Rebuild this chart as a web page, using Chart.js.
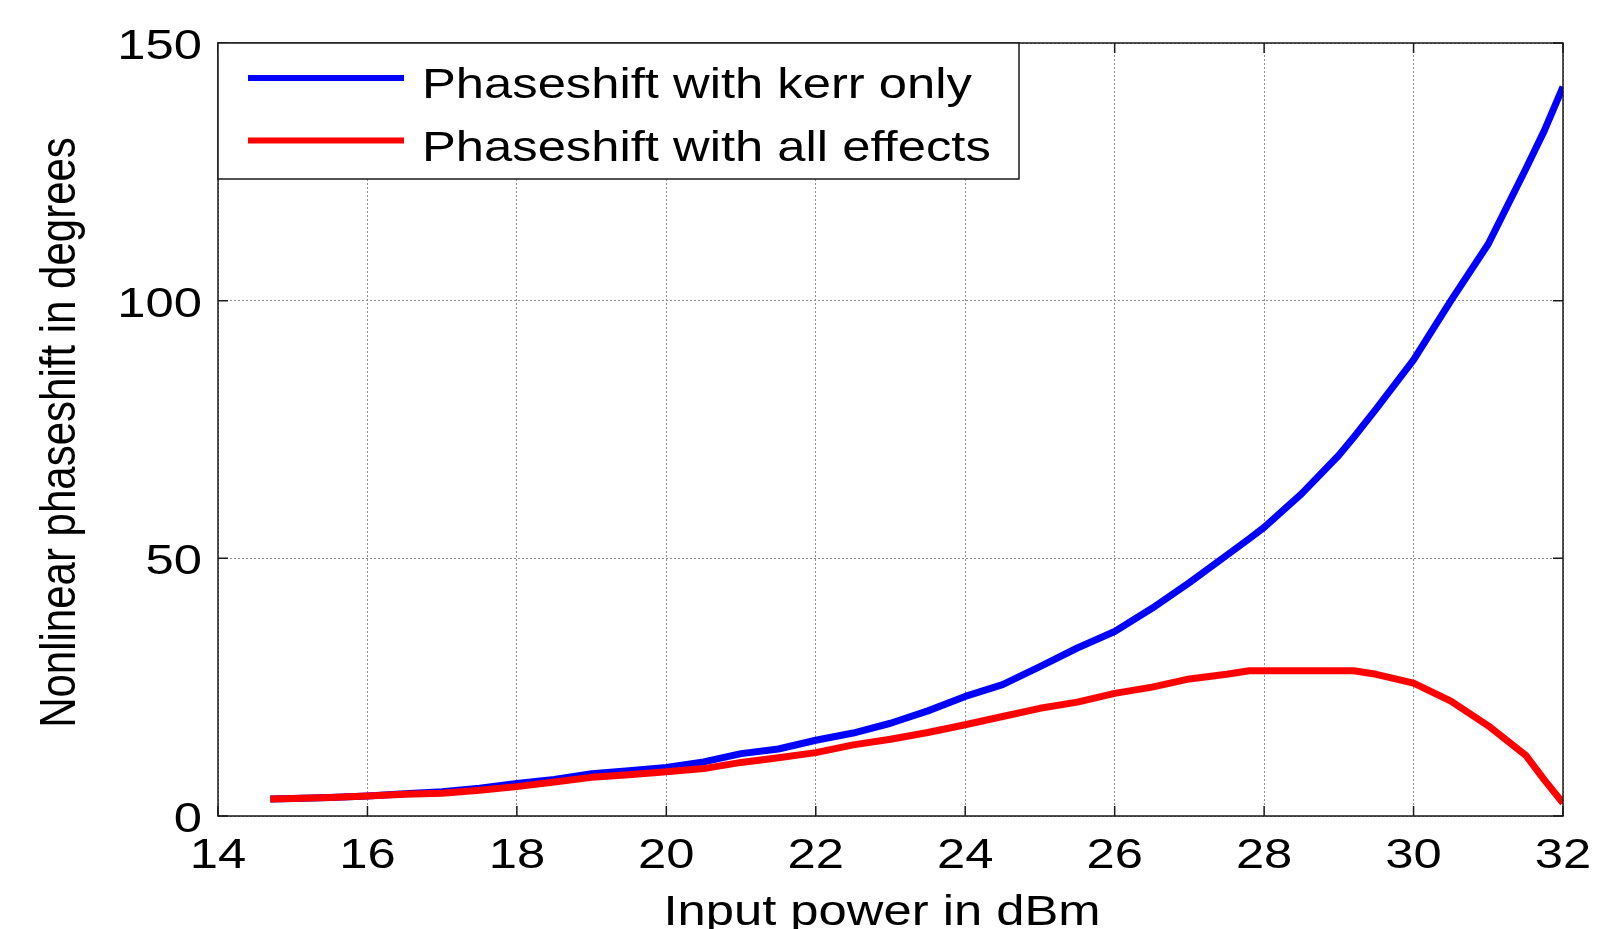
<!DOCTYPE html>
<html>
<head>
<meta charset="utf-8">
<title>Nonlinear phaseshift vs input power</title>
<script src="https://cdn.jsdelivr.net/npm/chart.js@4.4.1/dist/chart.umd.min.js"></script>
<style>
    html, body { margin: 0; padding: 0; background: #fff; }
    .chart-container { position: relative; width: 1614px; height: 929px; }
</style>
</head>
<body>
<div class="chart-container"><canvas id="phase-chart"></canvas></div>
<script>
// input power (dBm) where the curves were read
const powerDbm = [14.7, 15, 15.5, 16, 16.5, 17, 17.5, 18, 18.5, 19,
    19.5, 20, 20.5, 21, 21.5, 22, 22.5, 23, 23.5, 24,
    24.5, 25, 25.5, 26, 26.5, 27, 27.5, 27.8, 28, 28.5,
    29, 29.2, 29.5, 30, 30.5, 31, 31.5, 31.75, 32];

// nonlinear phaseshift in degrees
const kerrOnly = [3.3, 3.4, 3.6, 3.9, 4.3, 4.7, 5.4, 6.3, 7.1, 8.2,
    8.8, 9.4, 10.5, 12.1, 13.0, 14.7, 16.1, 18.0, 20.4, 23.2,
    25.5, 29.0, 32.6, 35.8, 40.3, 45.3, 50.6, 53.8, 56.0, 62.5,
    70.0, 73.5, 79.0, 88.5, 100.0, 111.0, 125.5, 133.0, 141.5];

const allEffects = [3.3, 3.4, 3.6, 3.9, 4.2, 4.4, 5.0, 5.7, 6.6, 7.5,
    8.0, 8.6, 9.2, 10.4, 11.3, 12.3, 13.8, 14.9, 16.2, 17.7,
    19.3, 20.9, 22.1, 23.8, 25.0, 26.6, 27.5, 28.2, 28.2, 28.2,
    28.2, 28.2, 27.5, 25.8, 22.3, 17.5, 11.8, 7.0, 2.5];

const seriesLabels = ["Phaseshift with kerr only", "Phaseshift with all effects"];
const seriesColors = ["rgb(0,0,255)", "rgb(255,0,0)"];

const xTitle = "Input power in dBm";
const yTitle = "Nonlinear phaseshift in degrees";

const FONT = '"Liberation Sans", Arial, Helvetica, sans-serif';
const STRETCH = 1.18;   // the picture is a bit wider than tall

function stretchedText(ctx, text, x, y, size, align) {
    ctx.save();
    ctx.translate(x, y);
    ctx.scale(STRETCH, 1);
    ctx.font = size + "px " + FONT;
    ctx.textAlign = align;
    ctx.textBaseline = "alphabetic";
    ctx.fillStyle = "#000";
    ctx.fillText(text, 0, 0);
    ctx.restore();
}

// matlab style box, inner ticks, labels and legend
const matlabAxes = {
    id: "matlabAxes",
    afterDraw(chart) {
        const {ctx, chartArea: a, scales: {x, y}} = chart;

        ctx.save();
        ctx.strokeStyle = "#1a1a1a";
        ctx.lineWidth = 1.5;
        ctx.strokeRect(a.left, a.top, a.right - a.left, a.bottom - a.top);

        ctx.beginPath();
        x.ticks.forEach(t => {
            const px = x.getPixelForValue(t.value);
            ctx.moveTo(px, a.bottom); ctx.lineTo(px, a.bottom - 10);
            ctx.moveTo(px, a.top); ctx.lineTo(px, a.top + 10);
        });
        y.ticks.forEach(t => {
            const py = y.getPixelForValue(t.value);
            ctx.moveTo(a.left, py); ctx.lineTo(a.left + 10, py);
            ctx.moveTo(a.right, py); ctx.lineTo(a.right - 10, py);
        });
        ctx.stroke();
        ctx.restore();

        x.ticks.forEach(t => {
            stretchedText(ctx, t.label, x.getPixelForValue(t.value), a.bottom + 52, 43, "center");
        });
        y.ticks.forEach(t => {
            stretchedText(ctx, t.label, a.left - 16, y.getPixelForValue(t.value) + 16, 43, "right");
        });

        stretchedText(ctx, xTitle, 882, 925, 43, "center");

        ctx.save();
        ctx.translate(75, (a.top + a.bottom) / 2 + 3);
        ctx.rotate(-Math.PI / 2);
        ctx.scale(1, STRETCH);
        ctx.font = "42px " + FONT;
        ctx.textAlign = "center";
        ctx.textBaseline = "alphabetic";
        ctx.fillStyle = "#000";
        ctx.fillText(yTitle, 0, 0);
        ctx.restore();

        // legend box in the upper left corner
        const lx = a.left, ly = a.top, lw = 801, lh = 136;
        ctx.save();
        ctx.fillStyle = "#fff";
        ctx.fillRect(lx, ly, lw, lh);
        ctx.strokeStyle = "#1a1a1a";
        ctx.lineWidth = 1.5;
        ctx.strokeRect(lx, ly, lw, lh);
        ctx.lineWidth = 6;
        seriesLabels.forEach((label, i) => {
            const rowY = ly + 35 + i * 62.5;
            ctx.strokeStyle = seriesColors[i];
            ctx.beginPath();
            ctx.moveTo(lx + 30, rowY);
            ctx.lineTo(lx + 186, rowY);
            ctx.stroke();
            stretchedText(ctx, label, lx + 204, rowY + 20, 43, "left");
        });
        ctx.restore();
    }
};

const toPoints = values => values.map((v, i) => ({x: powerDbm[i], y: v}));

new Chart(document.getElementById("phase-chart"), {
    type: "line",
    data: {
        datasets: [
            {
                label: seriesLabels[0],
                data: toPoints(kerrOnly),
                borderColor: seriesColors[0],
                borderWidth: 7,
                pointRadius: 0,
                tension: 0,
                order: 1
            },
            {
                label: seriesLabels[1],
                data: toPoints(allEffects),
                borderColor: seriesColors[1],
                borderWidth: 7,
                pointRadius: 0,
                tension: 0,
                order: 0
            }
        ]
    },
    options: {
        responsive: true,
        maintainAspectRatio: false,
        animation: false,
        events: [],
        layout: {padding: {left: 218, right: 51, top: 43, bottom: 113}},
        plugins: {legend: {display: false}, tooltip: {enabled: false}},
        elements: {line: {borderJoinStyle: "round", borderCapStyle: "butt"}},
        scales: {
            x: {
                type: "linear",
                min: 14,
                max: 32,
                ticks: {stepSize: 2, display: false},
                grid: {color: "#8c8c8c", lineWidth: 1, drawTicks: false},
                border: {display: false, dash: [2, 2]}
            },
            y: {
                min: 0,
                max: 150,
                ticks: {stepSize: 50, display: false},
                grid: {color: "#8c8c8c", lineWidth: 1, drawTicks: false},
                border: {display: false, dash: [2, 2]}
            }
        }
    },
    plugins: [matlabAxes]
});
</script>
</body>
</html>
